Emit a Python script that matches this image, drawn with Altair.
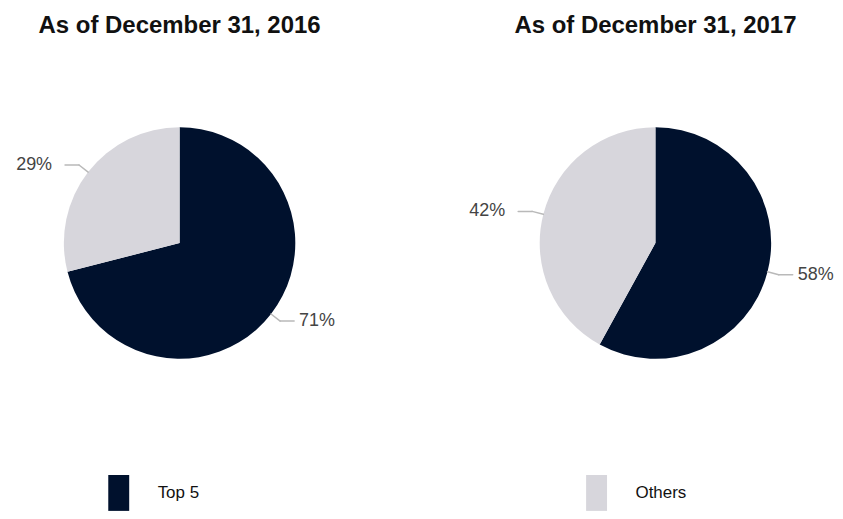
import altair as alt
import pandas as pd

# ---- data ----
years = ["2016", "2017"]
titles = ["As of December 31, 2016", "As of December 31, 2017"]
categories = ["Top 5", "Others"]
top5_share = [71, 58]
others_share = [29, 42]

# ---- styling / layout constants ----
COLORS = ["#00112d", "#d7d6dc"]
LINE_COLOR = "#b9b9b9"
LABEL_COLOR = "#444444"
FONT = "Liberation Sans"
R = 116                 # pie radius in px
PANEL_W = 342
SPACING = 135
PANEL_H = 400
TOP_PAD = 4
PLOT_TOP = 41           # expected page y of plot-area top
CENTER_FROM_TOP = 243 - PLOT_TOP

XH = PANEL_W / 2 / R
x_scale = alt.Scale(domain=[-XH, XH])
y_scale = alt.Scale(domain=[-(PANEL_H - CENTER_FROM_TOP) / R, CENTER_FROM_TOP / R])

ELBOW = 1.1
SEG = 14 / R
GAP_L = 13 / R
GAP_R = 5 / R

SYM_H = 36
SYM_HALF_W = 10.5 / (SYM_H / 2)
legend = alt.Legend(
    orient="none", legendX=92, legendY=434.5,
    direction="horizontal",
    title=None,
    symbolType=f"M-{SYM_HALF_W:.3f},-1H{SYM_HALF_W:.3f}V1H-{SYM_HALF_W:.3f}Z",
    symbolSize=SYM_H * SYM_H,
    symbolStrokeWidth=0, symbolOpacity=1, labelFont=FONT, labelFontSize=17,
    labelColor="#111111", labelOffset=21, columnPadding=380,
    labelBaseline="middle", padding=0,
)


def panel(i):
    df = pd.DataFrame({
        "category": categories,
        "share": [top5_share[i], others_share[i]],
        "order": [0, 1],
    })
    base = (
        alt.Chart(df)
        .transform_window(cum="sum(share)", sort=[alt.SortField("order")], frame=[None, 0])
        .transform_calculate(ang="(datum.cum - datum.share / 2) / 100 * 2 * PI")
        .transform_calculate(side="sin(datum.ang) >= 0 ? 1 : -1")
        .transform_calculate(x0="sin(datum.ang)")
        .transform_calculate(y0="cos(datum.ang)")
        .transform_calculate(x1=f"{ELBOW} * sin(datum.ang)")
        .transform_calculate(y1=f"{ELBOW} * cos(datum.ang)")
        .transform_calculate(x2=f"datum.x1 + datum.side * {SEG}")
        .transform_calculate(
            lx=f"datum.x2 + (datum.side > 0 ? {GAP_R} : -{GAP_L})"
        )
        .transform_calculate(label="datum.share + '%'")
    )
    arcs = base.mark_arc(radius=R).encode(
        theta=alt.Theta("share:Q", stack=True),
        color=alt.Color("category:N",
                        scale=alt.Scale(domain=categories, range=COLORS),
                        legend=legend),
        order=alt.Order("order:Q"),
        x=alt.XDatum(0, scale=x_scale, axis=None),
        y=alt.YDatum(0, scale=y_scale, axis=None),
    )
    radial = base.mark_rule(color=LINE_COLOR, strokeWidth=1.5, strokeCap="round").encode(
        x=alt.X("x0:Q", scale=x_scale, axis=None),
        y=alt.Y("y0:Q", scale=y_scale, axis=None),
        x2="x1:Q", y2="y1:Q",
    )
    horiz = base.mark_rule(color=LINE_COLOR, strokeWidth=1.5, strokeCap="round").encode(
        x=alt.X("x1:Q", scale=x_scale, axis=None),
        y=alt.Y("y1:Q", scale=y_scale, axis=None),
        x2="x2:Q",
    )
    text_kw = dict(font=FONT, fontSize=18, color=LABEL_COLOR, baseline="middle")
    lab_r = base.transform_filter("datum.side > 0").mark_text(align="left", **text_kw).encode(
        x=alt.X("lx:Q", scale=x_scale, axis=None),
        y=alt.Y("y1:Q", scale=y_scale, axis=None),
        text="label:N",
    )
    lab_l = base.transform_filter("datum.side < 0").mark_text(align="right", **text_kw).encode(
        x=alt.X("lx:Q", scale=x_scale, axis=None),
        y=alt.Y("y1:Q", scale=y_scale, axis=None),
        text="label:N",
    )
    return alt.layer(arcs, radial, horiz, lab_r, lab_l).properties(
        width=PANEL_W, height=PANEL_H,
        title=alt.Title(titles[i], font=FONT, fontSize=24, fontWeight="bold",
                        color="#111111", anchor="middle"),
    )


chart = (
    alt.hconcat(panel(0), panel(1), spacing=SPACING, bounds="flush")
    .resolve_scale(color="shared", x="independent", y="independent", theta="independent")
    .properties(padding={"top": TOP_PAD, "left": 0, "right": 0, "bottom": 0})
    .configure(font=FONT, view=alt.ViewConfig(stroke="transparent"))
)

chart.save("out.html", embed_options={"renderer": "svg", "actions": False})
